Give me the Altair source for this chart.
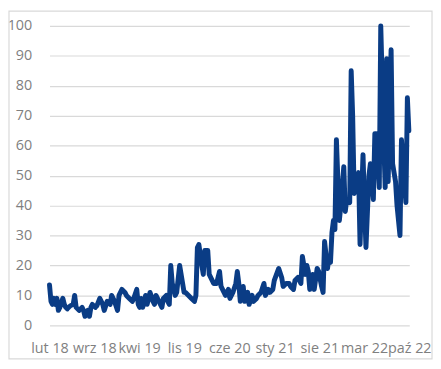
import altair as alt
import pandas as pd

# week index since 2018-02-01 (weekly Google-Trends-like series) and values
weeks = [0, 1, 2, 3, 4, 5, 6, 7, 9, 10, 11, 12, 14, 16, 17, 18, 20, 22, 23, 24,
         26, 27, 28, 29, 31, 32, 34, 36, 37, 39, 41, 42, 44, 46, 47, 49, 51, 52, 54, 56,
         57, 59, 60, 61, 62, 63, 65, 66, 68, 70, 71, 72, 74, 76, 77, 79, 80, 81, 82, 83,
         85, 86, 88, 90, 91, 92, 94, 96, 98, 99, 100, 101, 103, 104, 105, 107, 108, 110, 111, 113,
         115, 116, 118, 119, 121, 122, 124, 126, 127, 128, 129, 131, 132, 134, 135, 137, 138, 140, 141, 143,
         145, 146, 148, 149, 151, 152, 155, 157, 158, 160, 162, 163, 165, 166, 168, 170, 171, 173, 174, 175,
         176, 178, 179, 181, 182, 184, 185, 186, 188, 189, 190, 191, 192, 193, 194, 196, 197, 199, 200, 201,
         203, 204, 205, 206, 208, 209, 210, 212, 213, 214, 216, 217, 219, 220, 221, 223, 224, 226, 227, 228,
         229, 231, 232, 234, 235, 237, 238, 240, 241, 242, 243]
values = [13.5, 8, 7, 9, 7, 9, 5, 6, 9, 7, 6, 5.5, 6.5, 7, 10, 6, 5, 6, 5, 3,
          5, 3, 6, 7, 6, 6.5, 9, 7, 5, 8, 7, 10, 8, 5, 10, 12, 11, 10, 9, 8,
          9, 12, 7, 6, 9, 6, 10, 7, 11, 8, 7, 10, 8, 6, 9, 10, 8, 7, 20, 14,
          10, 11, 20, 14, 11, 11, 10, 9, 8, 10, 26, 27, 20, 17, 25, 25, 17, 15, 14, 14,
          18, 13, 11, 10, 12, 9, 11, 14, 18, 14, 8, 13, 8, 11, 7, 10, 8, 9, 10, 11,
          14, 10, 12, 11, 12, 15, 19, 16, 13, 14, 14, 13, 12, 15, 16, 14, 23, 17, 20, 18,
          12, 17, 12, 19, 18, 13, 11, 28, 19, 23, 21, 31, 35, 32, 62, 35, 40, 53, 38, 42,
          41, 85, 70, 44, 47, 51, 27, 57, 40, 26, 50, 54, 42, 64, 64, 46, 100, 62, 46, 89,
          48, 92, 54, 48, 40, 30, 62, 48, 41, 76, 65]

tick_dates = ["2018-02-01", "2018-09-01", "2019-04-01", "2019-11-01", "2020-06-01",
              "2021-01-01", "2021-08-01", "2022-03-01", "2022-10-01"]
y_ticks = [0, 10, 20, 30, 40, 50, 60, 70, 80, 90, 100]

start = pd.Timestamp("2018-02-01")
dates = [(start + pd.Timedelta(days=7 * w)).strftime("%Y-%m-%d") for w in weeks]
df = pd.DataFrame({"date": dates, "value": values})


def dt(s):
    y, m, d = (int(p) for p in s.split("-"))
    return alt.DateTime(year=y, month=m, date=d, utc=True)


label_expr = ("['sty','lut','mar','kwi','maj','cze','lip','sie','wrz','paź','lis','gru']"
              "[utcmonth(datum.value)] + ' ' + utcFormat(datum.value, '%y')")

W, H = 364, 303

line = alt.Chart(df).mark_line(
    color="#0A3C85", strokeWidth=5, strokeJoin="round", strokeCap="round"
).encode(
    x=alt.X("date:T",
            scale=alt.Scale(type="utc", domain=[dt(tick_dates[0]), dt(tick_dates[-1])]),
            axis=alt.Axis(values=[dt(t) for t in tick_dates], labelExpr=label_expr,
                          title=None, grid=False, ticks=False, domain=False,
                          labelPadding=16, labelOverlap=False, labelBound=False,
                          labelFlush=False)),
    y=alt.Y("value:Q", scale=alt.Scale(domain=[0, 100], nice=False),
            axis=alt.Axis(values=y_ticks, title=None, ticks=False, domain=False,
                          labelPadding=18, gridColor="#D9D9D9", gridWidth=1.2)),
)

border = alt.Chart(pd.DataFrame({"a": [0]})).mark_rect(
    fill=None, stroke="#D9D9D9", strokeWidth=1.2
).encode(
    x=alt.value(-41), x2=alt.value(W + 23),
    y=alt.value(-15), y2=alt.value(H + 34),
)

chart = alt.layer(border, line).properties(
    width=W, height=H,
    autosize=alt.AutoSizeParams(type="none"),
    padding={"left": 42, "top": 16, "right": 24, "bottom": 34},
    background="white",
).configure_view(stroke=None).configure_axis(
    labelFont="Open Sans", labelFontSize=14.5, labelColor="#7F7F7F"
)

chart.save("out.html", embed_options={"renderer": "svg", "actions": False})
